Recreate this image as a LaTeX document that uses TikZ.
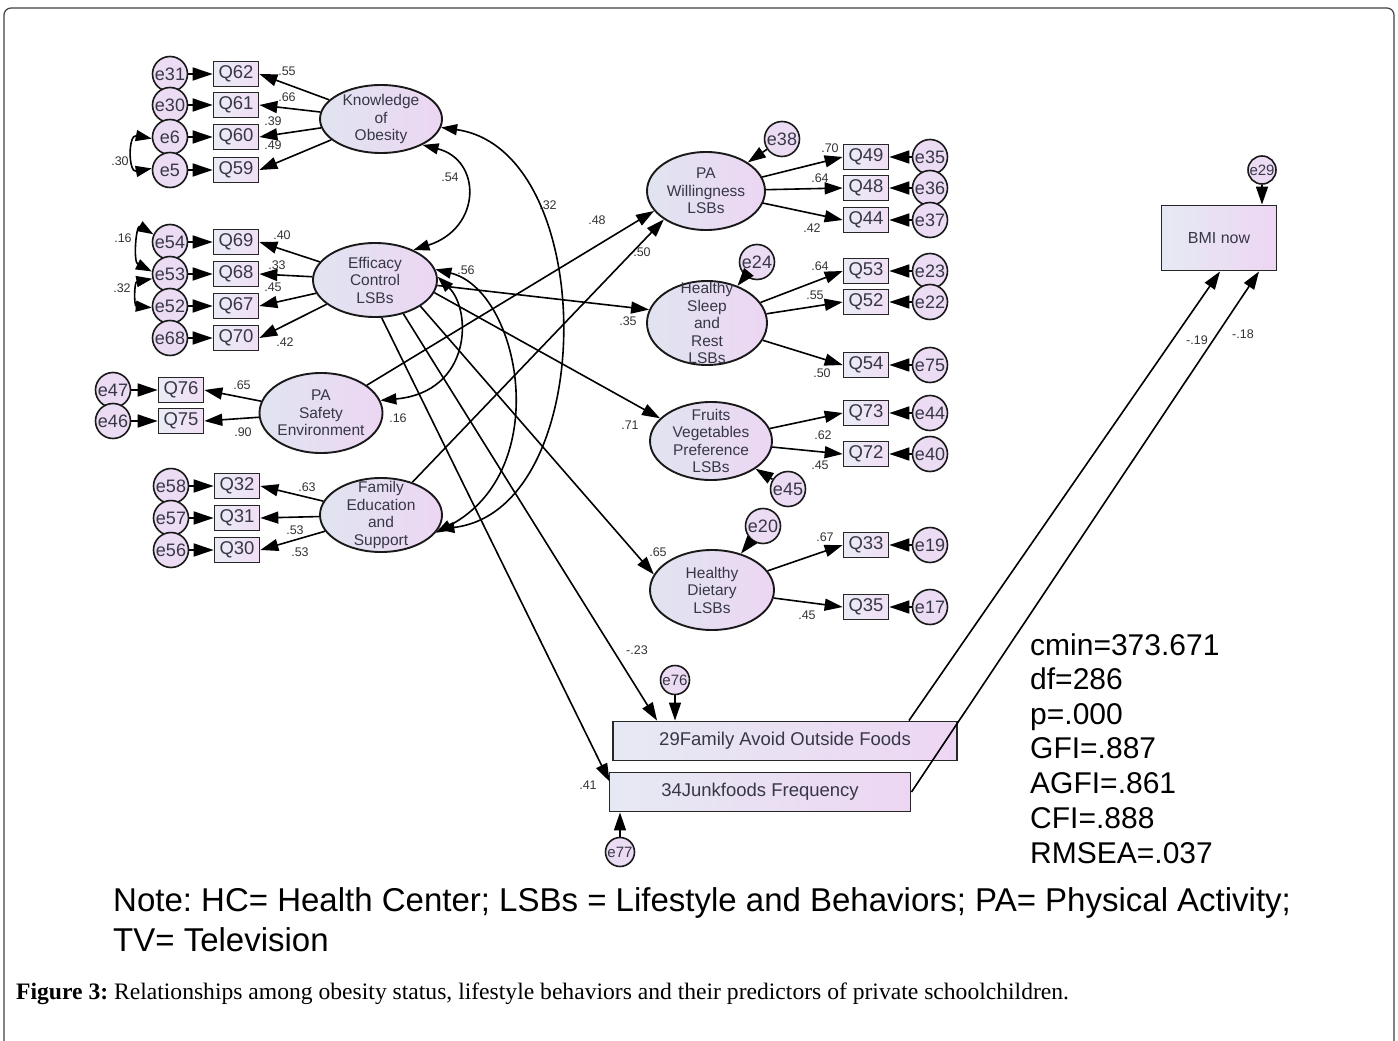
\documentclass[tikz,border=0pt]{standalone}
\usepackage{fontspec}
\setmainfont{Liberation Sans}
\newfontfamily\capfont{Liberation Serif}
\usetikzlibrary{shapes.geometric,arrows.meta,calc}
\definecolor{latL}{RGB}{224,228,240}
\definecolor{latR}{RGB}{237,214,243}
\definecolor{errF}{RGB}{236,220,243}
\definecolor{txt}{RGB}{55,55,70}
\frenchspacing
\begin{document}
\begin{tikzpicture}[x=1pt,y=-1pt,
 lat/.style={ellipse,draw=black!90,line width=1.9pt,inner xsep=-6pt,inner ysep=-24pt,align=center,left color=latL,right color=latR,text=txt,font=\fontsize{15.5}{17.5}\selectfont},
 obs/.style={rectangle,draw=black!85,line width=1.7pt,minimum width=45pt,minimum height=25pt,inner sep=0pt,left color=latL!70!white,right color=latR!80!white,text=txt,font=\fontsize{18.5}{20}\selectfont},
 err/.style={circle,draw=black!90,line width=1.6pt,minimum size=35pt,inner sep=0pt,fill=errF,text=txt,font=\fontsize{18}{20}\selectfont},
 errs/.style={err,minimum size=29pt,font=\fontsize{15}{17}\selectfont},
 big/.style={rectangle,draw=black!85,line width=1.9pt,inner sep=0pt,left color=latL!80!white,right color=latR,text=txt,font=\fontsize{18.5}{20}\selectfont},
 pth/.style={line width=1.6pt,-{Triangle[length=18pt,width=12pt]}},
 ept/.style={line width=1.6pt,-{Triangle[length=20pt,width=13pt]}},
 cov/.style={line width=1.6pt,{Triangle[length=16pt,width=11pt]}-{Triangle[length=16pt,width=11pt]}},
 coef/.style={inner sep=0pt,text=black!80,font=\fontsize{12.5}{14}\selectfont},
 stat/.style={anchor=base west,inner sep=0pt,font=\fontsize{30}{34}\selectfont},
]
\useasboundingbox (0,0) rectangle (1398,1041);
\draw[black!75,line width=1.2pt,rounded corners=7pt] (4,8) rectangle (1394,1070);

% latent variables
\node[lat,minimum width=122pt,minimum height=68pt] (kn) at (381,119) {Knowledge\\of\\Obesity};
\node[lat,minimum width=124pt,minimum height=74pt] (ec) at (375,280) {Efficacy\\Control\\LSBs};
\node[lat,minimum width=123pt,minimum height=80pt] (ps) at (321,413) {PA\\Safety\\Environment};
\node[lat,minimum width=122pt,minimum height=74pt] (fe) at (381,515) {Family\\Education\\and\\Support};
\node[lat,minimum width=118pt,minimum height=78pt] (pw) at (706,191) {PA\\Willingness\\LSBs};
\node[lat,minimum width=120pt,minimum height=84pt] (sl) at (707,323) {Healthy\\Sleep\\and\\Rest\\LSBs};
\node[lat,minimum width=122pt,minimum height=78pt] (fv) at (711,441) {Fruits\\Vegetables\\Preference\\LSBs};
\node[lat,minimum width=124pt,minimum height=80pt] (dd) at (712,590) {Healthy\\Dietary\\LSBs};

% left observed + errors
\foreach \q/\e/\y in {q62/e31/74,q61/e30/105,q60/e6/137,q59/e5/170,q69/e54/242,q68/e53/274,q67/e52/306,q70/e68/338}{
  \node[err] (\e) at (170,\y) {\e};
}
\foreach \q/\e/\y in {q62/e31/74,q61/e30/105,q60/e6/137,q59/e5/170,q69/e54/242,q68/e53/274,q67/e52/306,q70/e68/338}{
  \node[obs] (\q) at (236,\y) {\MakeUppercase{\q}};
  \draw[ept] (\e) -- (\q);
}
\node[err] (e47) at (113,390) {e47};
\node[err] (e46) at (113,421) {e46};
\node[obs] (q76) at (181,390) {Q76};
\node[obs] (q75) at (181,421) {Q75};
\draw[ept] (e47) -- (q76);
\draw[ept] (e46) -- (q75);
\foreach \q/\e/\y in {q32/e58/486,q31/e57/518,q30/e56/550}{
  \node[err] (\e) at (171,\y) {\e};
}
\foreach \q/\e/\y in {q32/e58/486,q31/e57/518,q30/e56/550}{
  \node[obs] (\q) at (237,\y) {\MakeUppercase{\q}};
  \draw[ept] (\e) -- (\q);
}

% right observed + errors
\foreach \q/\e/\y in {q49/e35/157,q48/e36/188,q44/e37/220,q53/e23/271,q52/e22/302,q54/e75/365,q73/e44/413,q72/e40/454,q33/e19/545,q35/e17/607}{
  \node[err] (\e) at (930,\y) {\e};
}
\foreach \q/\e/\y in {q49/e35/157,q48/e36/188,q44/e37/220,q53/e23/271,q52/e22/302,q54/e75/365,q73/e44/413,q72/e40/454,q33/e19/545,q35/e17/607}{
  \node[obs] (\q) at (866,\y) {\MakeUppercase{\q}};
  \draw[ept] (\e) -- (\q);
}
\node[err] (e38) at (782,139) {e38};
\node[err] (e24) at (757,262) {e24};
\node[err] (e45) at (788,489) {e45};
\node[err] (e20) at (763,526) {e20};
\draw[pth] (e38) -- (pw);
\draw[pth] (e24) -- (sl);
\draw[pth] (e45) -- (fv);
\draw[pth] (e20) -- (dd);

% boxes bottom
\node[big,minimum width=344pt,minimum height=39pt] (fa) at (785,741) {29Family Avoid Outside Foods};
\node[big,minimum width=301pt,minimum height=39pt] (jf) at (760,792) {34Junkfoods Frequency};
\node[big,minimum width=115pt,minimum height=65pt,font=\fontsize{16}{18}\selectfont] (bmi) at (1219,238) {BMI now};
\node[errs] (e76) at (675,680) {e76};
\node[errs] (e77) at (620,852) {e77};
\node[errs,minimum size=28pt] (e29) at (1262,170) {e29};
\draw[pth] (e76) -- (e76 |- fa.north);
\draw[pth] (e77) -- (e77 |- jf.south);
\draw[pth] (e29) -- (e29 |- bmi.north);

% measurement paths
\foreach \q in {q62,q61,q60,q59}{\draw[pth] (kn) -- (\q.east);}
\foreach \q in {q69,q68,q67,q70}{\draw[pth] (ec) -- (\q.east);}
\foreach \q in {q76,q75}{\draw[pth] (ps) -- (\q.east);}
\foreach \q in {q32,q31,q30}{\draw[pth] (fe) -- (\q.east);}
\foreach \q in {q49,q48,q44}{\draw[pth] (pw) -- (\q.west);}
\foreach \q in {q53,q52,q54}{\draw[pth] (sl) -- (\q.west);}
\foreach \q in {q73,q72}{\draw[pth] (fv) -- (\q.west);}
\foreach \q in {q33,q35}{\draw[pth] (dd) -- (\q.west);}

% structural paths
\draw[pth] (ps) -- (pw.201);
\draw[pth] (fe) -- (pw.214);
\draw[pth] (ec.-5) -- (sl.167);
\draw[pth] (ec.-12) -- (fv.156);
\draw[pth] (ec.-30) -- (dd.165);
\draw[pth] (ec.-50) -- ($(fa.north west)+(45,0)$);
\draw[pth] (ec.-80) -- ($(jf.north west)+(1,10)$);
\draw[pth] ($(fa.north east)+(-49,0)$) -- ($(bmi.south)+(1,0)$);
\draw[pth] (jf.east) -- ($(bmi.south)+(40,0)$);

% covariances
\draw[cov] (kn.-32) .. controls (482,160) and (482,228) .. (ec.38);
\draw[cov] (kn.-8) .. controls (600,150) and (600,510) .. (fe.-14);
\draw[cov] (ec.10) .. controls (520,290) and (555,470) .. (fe.-18);
\draw[cov] (ec.3) .. controls (472,310) and (472,392) .. (ps.12);
\draw[cov] (e6.185) .. controls (128,134) and (128,173) .. (e5.175);
\draw[cov] (e54.155) .. controls (136,224) and (133,262) .. (e53.172);
\draw[cov] (e53.195) .. controls (134,282) and (134,306) .. (e52.185);

% coefficients
\foreach \t/\x/\y [count=\i] in {.55/287/71,.66/287/97,.39/273/121,.49/273/145,.40/282/235,.33/277/265,.45/273/287,.42/285/342,.30/120/161,.16/123/238,.32/122/288,.65/242/385,.90/243/432,.63/307/487,.53/295/530,.53/300/552,.54/450/177,.32/548/205,.48/597/220,.50/642/252,.56/466/270,.35/628/321,.16/398/418,.71/630/425,.65/658/552,-.23/637/650,.41/588/785,.70/830/148,.64/820/178,.42/812/228,.64/820/266,.55/815/295,.50/822/373,.62/823/435,.45/820/465,.67/825/537,.45/807/615,-.19/1197/340,-.18/1243/334}{
  \node[coef] (c\i) at (\x,\y) {\t};
}

% fit statistics
\node[stat] (s1) at (1030,655) {cmin=373.671};
\node[stat] (s2) at (1030,689) {df=286};
\node[stat] (s3) at (1030,724) {p=.000};
\node[stat] (s4) at (1030,758) {GFI=.887};
\node[stat] (s5) at (1030,793) {AGFI=.861};
\node[stat] (s6) at (1030,828) {CFI=.888};
\node[stat] (s7) at (1030,863) {RMSEA=.037};

% note and caption
\node[stat,font=\fontsize{33}{38}\selectfont] (n1) at (113,911) {Note: HC= Health Center; LSBs = Lifestyle and Behaviors; PA= Physical Activity;};
\node[stat,font=\fontsize{33}{38}\selectfont] (n2) at (113,951) {TV= Television};
\node[anchor=base west,inner sep=0pt,font=\capfont\fontsize{23.6}{27}\selectfont] (cap) at (16,999) {\textbf{Figure 3:} Relationships among obesity status, lifestyle behaviors and their predictors of private schoolchildren.};
\end{tikzpicture}
\end{document}
